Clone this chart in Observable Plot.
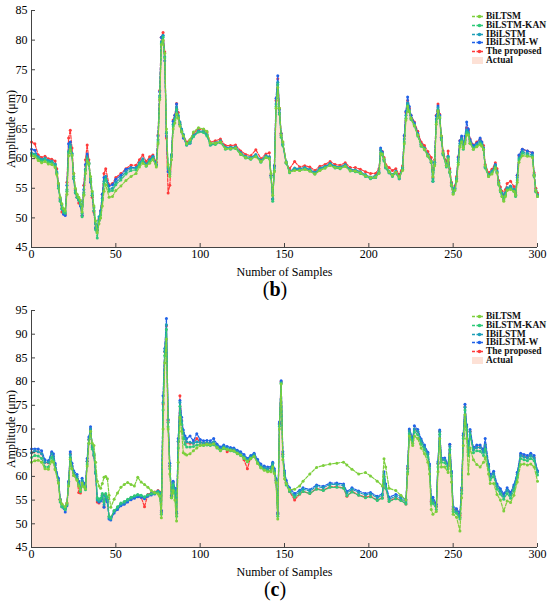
<!DOCTYPE html>
<html><head><meta charset="utf-8">
<script src="https://cdn.jsdelivr.net/npm/d3@7"></script>
<script src="https://cdn.jsdelivr.net/npm/@observablehq/plot@0.6"></script>
<style>
body{margin:0;background:#fff;width:550px;font-family:"Liberation Serif",serif}
.panel{position:relative;width:550px}
.cap{text-align:center;font:20px "Liberation Serif",serif;height:23px;line-height:25px;color:#000}
.legend{position:absolute;left:472px;top:12px;font:bold 9.5px "Liberation Serif",serif;color:#111}
.legend div{height:8.8px;line-height:8.8px;white-space:nowrap;display:flex;align-items:center}
.legend svg{margin-right:2px;flex:none}
</style></head><body>
<div class="panel" id="pb"></div>
<div class="cap">(<b>b</b>)</div>
<div class="panel" id="pc"></div>
<div class="cap" style="height:30px">(<b>c</b>)</div>
<script>
// ---------- shared ----------
const seriesNames = ["BiLTSM","BiLSTM-KAN","IBiLSTM","IBiLSTM-W","The proposed"];
const seriesColors = ["#7dcf3c","#2ec978","#1d9fb8","#2062e8","#ff3a3a"];
const actualName = "Actual";
const actualColor = "#fde1d6";
const xTicks = [0,50,100,150,200,250,300];
const yTicksB = [45,50,55,60,65,70,75,80,85];
const yTicksC = [45,50,55,60,65,70,75,80,85,90,95];

// ---------- panel (b) ----------
const sB = [0,2,4,6,8,10,12,14,15,16,
17,18,19,20,21,22,23,24,25,26,
27,28,29,30,31,32,33,34,35,36,
37,38,39,40,41,42,43,44,46,48,
50,53,56,59,62,64,66,68,70,72,
74,75,76,77,78,79,80,81,82,83,
84,85,86,87,88,89,90,92,94,96,
99,102,104,106,109,112,115,118,121,124,
127,130,133,136,139,141,142,143,144,145,
146,147,148,149,151,153,156,159,162,165,
168,171,174,177,180,183,186,189,192,195,
198,201,204,206,207,208,209,210,212,214,
216,218,220,221,222,223,224,225,227,229,
231,233,235,237,238,239,240,241,242,243,
244,246,247,248,249,250,251,252,253,254,
255,256,257,258,259,260,262,264,266,267,
268,269,271,273,275,276,277,278,279,280,
281,282,284,286,287,288,289,291,294,297,
298,299,300];
const actualB = [61.2,61.0,60.4,60.0,60.2,59.8,59.7,59.2,58.0,55.5,
53.2,52.0,51.2,50.8,55.0,61.5,62.6,61.0,57.0,54.5,
53.8,53.2,52.6,50.6,54.5,58.5,60.6,59.5,56.5,54.0,
51.5,48.8,48.2,50.0,51.0,53.5,56.5,57.3,55.0,55.2,
56.3,57.0,58.0,58.6,58.6,59.5,60.2,59.2,60.0,60.5,
59.2,63.5,71.0,80.0,81.0,77.0,64.0,58.0,57.5,60.8,
66.0,67.0,69.0,67.5,66.3,65.0,64.2,62.6,63.0,64.0,
64.8,64.7,64.2,62.6,62.8,63.1,62.0,62.0,62.1,61.1,
60.5,60.3,60.8,59.8,60.6,60.4,57.0,53.0,58.5,69.5,
73.2,68.0,64.0,62.6,59.6,58.0,58.5,58.4,58.6,58.3,
57.8,58.5,58.8,59.3,58.8,58.7,59.1,58.3,58.2,57.9,
57.4,57.0,57.2,58.0,61.6,61.0,60.0,58.8,58.0,57.4,
58.0,57.0,58.6,63.5,67.5,69.6,68.3,67.0,65.9,64.2,
62.5,61.9,60.8,59.7,56.5,59.5,67.0,68.8,67.2,63.5,
61.0,59.0,60.5,58.0,55.8,54.6,55.2,56.8,60.0,62.8,
63.5,62.0,63.2,65.0,64.6,63.0,62.0,62.5,63.0,62.6,
61.9,58.8,57.4,58.0,59.0,58.0,56.0,54.8,54.1,53.4,
54.2,55.2,55.5,54.9,54.0,57.0,60.3,61.4,61.1,60.8,
57.4,54.8,54.0];
const proposedB = [62.8,62.5,60.6,60.2,60.4,60.0,59.9,59.6,58.3,55.8,
53.0,51.0,50.9,50.6,56.0,63.5,64.8,61.8,57.5,54.8,
53.5,52.5,52.3,50.4,55.5,59.8,62.3,59.8,56.2,53.5,
51.0,48.2,47.9,49.8,51.2,54.0,57.5,58.3,55.6,55.8,
56.8,57.5,58.3,58.9,58.9,59.8,60.6,59.5,60.3,60.6,
59.4,64.0,71.5,80.5,81.3,78.0,63.5,54.2,55.5,60.5,
66.5,67.3,69.3,67.8,66.0,64.8,64.0,62.8,63.2,64.2,
65.0,64.9,64.4,62.8,63.0,63.3,62.2,62.2,62.3,61.3,
60.7,60.5,61.5,60.0,60.8,61.0,57.2,53.2,58.8,69.8,
73.5,68.5,64.3,62.8,59.3,58.3,59.5,58.6,58.8,58.6,
58.0,58.7,59.0,59.5,59.0,58.9,59.3,58.5,58.5,58.2,
57.8,57.5,57.5,58.3,61.4,61.2,60.2,59.0,58.5,58.0,
58.3,57.3,58.8,63.8,67.8,69.8,68.5,67.3,66.2,64.6,
62.8,62.2,61.2,60.2,56.8,59.8,67.3,69.2,67.5,63.8,
61.3,59.3,61.3,58.3,56.0,54.8,55.4,57.0,60.3,63.0,
63.6,62.5,63.3,65.2,64.8,63.3,62.3,62.8,63.3,62.8,
62.2,59.0,57.6,58.2,59.3,58.3,56.3,55.2,54.5,53.8,
54.8,55.8,56.2,55.3,54.3,57.2,60.5,61.6,61.3,61.0,
57.6,55.0,54.2];
const wB = [61.6,61.4,60.2,59.6,60.0,59.5,59.5,59.0,57.6,55.6,
53.0,51.5,50.6,50.4,55.5,62.5,62.8,60.8,56.6,54.2,
53.5,53.0,52.0,50.4,54.8,59.0,60.8,59.2,56.0,53.8,
51.2,48.3,48.0,49.6,51.2,54.0,56.8,57.0,55.4,55.6,
56.5,57.2,58.2,58.5,58.5,59.2,59.8,59.0,59.8,60.4,
59.0,63.8,71.3,80.5,80.8,76.5,63.8,57.8,57.8,60.6,
66.3,67.3,69.2,67.0,65.8,64.6,63.5,62.3,62.6,63.8,
64.6,64.5,64.0,62.3,62.5,62.8,61.8,61.8,61.9,61.0,
60.2,60.0,60.5,59.6,60.3,60.2,57.2,53.2,58.8,70.2,
74.0,68.3,64.2,62.4,59.3,57.8,58.2,58.2,58.4,58.1,
57.5,58.3,58.6,59.1,58.6,58.5,58.9,58.1,58.0,57.6,
57.1,56.7,56.8,57.6,61.8,61.1,59.8,58.5,57.6,57.1,
57.6,56.6,58.4,63.9,68.0,70.4,68.8,67.3,66.0,64.3,
62.4,61.7,60.6,59.4,56.2,59.4,67.2,68.9,67.3,63.6,
60.8,58.8,60.3,57.7,55.5,54.3,55.0,56.6,60.2,63.0,
63.8,62.3,63.8,66.2,65.0,63.2,62.2,62.6,63.5,62.8,
61.8,58.5,57.2,57.8,59.0,57.8,55.8,54.6,53.9,53.2,
54.0,55.0,55.3,54.6,53.8,57.2,60.6,61.6,61.3,61.0,
57.2,54.5,53.8];
const iB = [61.0,60.8,60.3,59.9,60.1,59.7,59.6,59.1,57.8,55.4,
53.3,52.2,51.4,51.0,54.8,61.2,62.4,60.9,57.0,54.6,
53.9,53.4,52.8,50.8,54.3,58.2,60.3,59.3,56.6,54.2,
51.7,49.0,48.5,50.2,51.0,53.3,56.2,57.0,54.8,55.0,
56.0,56.8,57.8,58.4,58.4,59.3,60.0,59.0,59.8,60.3,
59.0,63.2,70.6,79.7,80.8,77.2,64.3,58.3,57.6,60.7,
65.8,66.8,68.7,67.3,66.2,65.0,64.1,62.5,62.9,63.9,
64.7,64.6,64.1,62.5,62.7,63.0,61.9,61.9,62.0,61.0,
60.4,60.2,60.7,59.7,60.5,60.3,57.1,53.2,58.4,69.2,
72.9,67.8,63.9,62.5,59.5,57.9,58.4,58.3,58.5,58.2,
57.7,58.4,58.7,59.2,58.7,58.6,59.0,58.2,58.1,57.8,
57.3,56.9,57.1,57.9,61.5,60.9,59.9,58.7,57.9,57.3,
57.9,56.9,58.5,63.3,67.3,69.4,68.2,66.9,65.8,64.1,
62.4,61.8,60.7,59.6,56.6,59.4,66.7,68.6,67.1,63.5,
60.9,58.9,60.4,57.9,55.8,54.7,55.1,56.7,59.8,62.6,
63.4,61.9,63.1,64.8,64.5,62.9,61.9,62.4,62.9,62.5,
61.8,58.7,57.3,57.9,58.9,57.9,56.0,54.8,54.2,53.5,
54.2,55.1,55.4,54.8,54.0,56.8,60.1,61.2,60.9,60.6,
57.3,54.7,53.9];
const kanB = [60.8,60.6,60.0,59.6,59.8,59.4,59.3,58.8,57.5,55.0,
52.8,51.6,51.0,50.8,54.5,61.0,62.0,60.5,56.7,54.3,
53.5,53.0,52.4,50.2,54.0,58.0,60.0,59.0,56.3,53.8,
51.2,48.0,46.6,49.5,50.5,53.0,55.8,56.5,54.5,54.6,
55.6,56.4,57.4,58.0,58.1,59.0,59.6,58.7,59.5,60.0,
58.8,62.8,70.3,79.4,80.5,77.0,64.5,58.6,57.3,60.3,
65.5,66.5,68.3,67.0,65.8,64.6,63.8,62.3,62.7,63.7,
64.5,64.4,63.8,62.3,62.4,62.7,61.6,61.6,61.7,60.7,
60.1,59.9,60.4,59.4,60.2,60.0,56.8,52.8,58.0,68.8,
72.5,67.5,63.6,62.2,59.2,57.6,58.1,58.0,58.2,57.9,
57.4,58.1,58.4,58.9,58.4,58.3,58.7,57.9,57.8,57.5,
57.0,56.6,56.8,57.6,61.0,60.6,59.6,58.4,57.6,57.0,
57.6,56.6,58.2,62.8,66.8,69.0,67.9,66.6,65.5,63.8,
62.1,61.5,60.4,59.3,56.2,59.0,66.2,68.2,66.8,63.2,
60.6,58.6,60.1,57.6,55.4,54.2,54.8,56.4,59.4,62.2,
63.0,61.6,62.8,64.4,64.2,62.6,61.6,62.1,62.6,62.2,
61.5,58.4,57.0,57.6,58.6,57.6,55.6,54.4,53.6,53.0,
53.8,54.8,55.0,54.5,53.6,56.4,59.8,60.9,60.6,60.3,
57.0,54.4,53.6];
const biB = [60.5,60.3,59.7,59.3,59.5,59.1,59.0,58.5,57.3,55.8,
53.5,52.4,51.6,51.2,54.0,60.5,61.5,60.6,57.5,55.0,
54.0,53.5,53.0,51.0,53.8,57.5,59.6,59.2,57.0,54.5,
52.0,49.5,47.5,49.0,50.0,52.0,54.5,55.6,53.5,53.6,
54.6,55.4,56.3,57.0,57.5,58.6,59.2,58.8,59.2,59.8,
58.6,62.5,70.0,79.2,80.0,77.8,65.0,59.0,57.0,59.8,
65.0,66.0,67.5,66.8,65.5,64.5,63.8,62.5,63.2,64.5,
65.2,65.0,64.6,62.6,62.6,62.8,61.7,61.7,61.8,60.8,
60.2,60.0,60.3,59.5,60.2,60.0,57.5,53.8,57.8,68.5,
72.0,68.5,64.0,62.8,59.4,57.8,58.0,58.0,58.2,57.9,
57.4,58.0,58.4,58.9,58.5,58.4,58.7,58.0,57.9,57.6,
57.1,56.8,56.9,57.5,60.8,60.8,60.0,58.8,57.8,57.2,
57.7,56.9,58.0,62.5,66.5,68.8,68.0,66.8,65.6,64.0,
62.3,61.6,60.5,59.5,57.0,58.8,65.8,68.0,67.0,63.8,
61.0,58.8,59.8,57.8,55.6,54.0,54.6,56.2,59.0,62.0,
62.8,61.8,62.5,64.0,64.0,62.6,61.6,62.0,62.4,62.1,
61.6,58.8,57.0,57.4,58.4,57.6,55.8,54.6,53.6,52.8,
53.6,54.6,54.8,54.5,53.8,56.0,59.4,60.5,60.4,60.2,
57.2,54.6,53.6];

// ---------- panel (c) ----------
const sC = [0,2,4,6,8,10,12,13,14,16,
17,18,20,21,22,23,24,25,27,28,
29,30,31,32,33,34,35,36,37,38,
39,40,41,42,43,44,45,46,47,49,
51,53,55,57,59,61,63,65,67,69,
71,73,75,76,77,78,79,80,81,82,
83,84,85,86,87,88,89,90,91,92,
94,96,98,100,102,104,106,108,110,112,
114,116,118,120,122,124,126,128,130,132,
134,136,138,140,142,143,144,145,146,147,
148,149,150,151,153,156,159,161,165,169,
173,177,181,185,187,190,194,198,201,205,
208,209,210,212,216,219,222,223,224,226,
227,229,231,233,235,236,237,238,240,241,
242,243,245,247,248,249,250,252,254,255,
256,257,258,259,260,262,264,266,268,269,
271,272,274,276,278,280,282,284,286,288,
290,292,294,296,298,300];
const actualC = [64.8,65.2,65.0,64.6,62.8,62.7,64.6,64.0,62.2,59.0,
55.0,54.0,53.2,54.2,58.5,64.5,62.0,60.6,59.8,58.5,
57.0,59.0,58.0,57.5,63.0,67.5,69.8,66.0,64.2,60.5,
55.0,54.8,55.0,56.0,54.0,56.0,55.0,51.3,51.0,52.5,
53.2,54.0,54.3,54.8,55.3,55.6,55.9,55.8,55.5,56.0,
56.3,56.5,56.8,56.5,52.5,75.0,86.0,92.5,71.0,62.0,
55.5,58.5,57.0,52.0,67.0,75.5,71.5,69.0,67.8,67.0,
66.8,66.7,67.0,67.0,66.8,66.9,66.8,67.0,66.2,65.6,
66.1,65.8,65.6,65.5,65.0,64.6,64.0,63.3,63.9,64.4,
63.0,62.0,61.6,61.4,61.5,62.5,61.0,59.0,52.0,71.0,
79.8,64.5,60.5,58.5,57.0,55.8,56.5,57.0,56.6,57.6,
57.3,58.0,58.0,57.8,56.2,57.0,56.3,55.8,56.0,55.2,
55.7,60.3,57.8,55.0,55.6,55.2,54.5,61.5,69.6,67.5,
69.8,69.3,67.3,66.0,64.5,62.0,54.5,55.0,53.5,62.5,
69.3,63.3,63.3,62.0,66.2,60.5,53.0,52.6,51.6,57.0,
68.5,74.5,70.3,65.0,69.3,65.5,66.0,66.0,65.0,66.5,
62.0,59.8,60.5,57.8,56.8,55.7,57.0,56.0,57.6,60.3,
64.3,64.0,63.8,64.3,63.8,60.8];
const proposedC = [65.0,65.4,65.2,64.8,63.0,62.9,65.0,64.2,62.4,59.2,
55.2,54.2,53.4,54.4,58.8,64.8,62.2,60.8,59.6,56.6,
56.5,58.8,58.2,57.7,63.2,67.8,70.0,66.2,64.4,60.7,
54.6,54.4,55.2,56.2,53.6,56.2,55.2,51.5,51.2,52.7,
53.4,54.2,54.5,55.0,55.5,55.8,56.1,55.6,53.6,56.2,
56.5,56.7,57.0,56.7,52.7,75.3,86.3,91.8,71.8,62.2,
55.7,58.7,57.2,52.2,67.3,77.0,71.8,69.2,68.0,67.2,
67.0,67.0,68.0,67.2,67.0,67.1,67.0,67.2,66.4,65.8,
66.3,65.2,65.8,65.7,65.2,64.8,63.5,61.6,64.1,64.6,
63.2,62.2,61.8,61.6,61.7,62.7,61.2,59.2,52.2,71.2,
80.0,64.7,60.7,58.7,56.8,55.0,56.3,56.8,56.4,57.4,
57.1,57.8,57.8,57.6,55.8,56.8,56.1,55.6,55.8,55.0,
55.5,60.0,57.6,54.8,55.4,55.0,54.2,61.7,69.8,67.7,
70.0,69.5,67.5,66.2,64.7,62.2,54.7,55.2,53.7,62.7,
69.5,63.5,63.5,62.2,66.7,60.7,53.2,52.8,51.8,57.2,
68.7,74.7,70.5,65.2,69.5,65.7,66.2,66.2,65.2,66.7,
62.2,60.0,60.7,58.0,57.0,55.9,57.2,56.2,57.8,60.5,
64.5,64.2,64.0,64.5,64.0,61.0];
const wC = [65.8,65.8,65.8,65.4,63.5,63.3,65.2,64.8,62.8,59.6,
55.2,53.6,52.5,53.8,59.0,65.2,62.8,61.2,60.4,59.0,
57.6,59.6,58.6,58.0,63.8,68.3,70.5,66.6,64.8,61.0,
55.3,54.6,54.8,56.0,53.5,55.8,54.6,51.0,50.8,52.3,
53.0,53.8,54.1,54.6,55.1,55.4,55.7,55.6,55.3,55.8,
56.1,56.3,56.6,56.3,52.8,77.0,87.0,93.3,72.0,62.8,
56.0,59.0,57.5,52.5,68.0,76.0,72.5,69.8,68.5,68.0,
68.5,67.5,69.0,67.8,67.5,67.6,67.5,68.0,66.8,66.2,
66.6,66.3,66.1,66.0,65.5,65.2,64.6,63.8,64.4,64.9,
63.6,62.6,62.2,62.0,62.0,63.0,61.6,59.5,52.4,71.5,
80.2,65.2,61.2,59.2,57.6,56.4,57.1,57.6,57.2,58.2,
57.9,58.6,58.6,58.4,56.8,57.6,56.9,56.4,56.6,55.8,
56.3,61.0,58.4,55.6,56.2,55.8,55.1,62.2,70.0,68.1,
70.7,69.9,67.9,66.6,65.1,62.6,55.0,55.6,54.1,63.1,
69.8,63.9,63.9,62.6,66.8,61.1,53.6,53.2,52.2,57.6,
69.0,75.2,70.9,65.6,69.9,66.1,66.6,66.6,65.6,68.0,
62.6,60.4,61.1,58.4,57.4,56.3,57.6,56.6,58.2,60.9,
64.9,64.6,64.4,64.9,64.4,61.2];
const iC = [65.0,65.4,65.2,64.8,63.0,63.0,64.8,64.2,62.4,59.2,
55.0,54.0,53.0,54.2,58.6,64.6,62.2,60.8,60.0,58.6,
57.2,59.2,58.2,57.6,63.2,67.8,70.0,66.2,64.4,60.6,
55.0,54.8,55.0,56.0,54.0,56.0,55.0,51.2,51.0,52.6,
53.3,54.1,54.4,54.9,55.4,55.7,56.0,55.9,55.6,56.1,
56.4,56.6,56.9,56.6,52.4,75.6,86.4,92.0,71.4,62.2,
55.6,58.6,57.2,52.2,67.4,75.6,71.6,69.2,68.0,67.3,
67.2,67.0,67.3,67.2,67.0,67.1,67.0,67.3,66.4,65.8,
66.3,66.0,65.8,65.7,65.2,64.8,64.2,63.5,64.1,64.6,
63.2,62.2,61.8,61.6,61.7,62.7,61.2,59.2,52.0,71.0,
79.8,64.6,60.7,58.7,57.2,56.0,56.8,57.3,56.9,57.9,
57.6,58.3,58.3,58.1,56.5,57.3,56.6,56.1,56.3,55.5,
56.0,60.5,58.0,55.2,55.8,55.4,54.6,61.6,69.6,67.6,
70.0,69.5,67.5,66.2,64.7,62.2,54.6,55.0,53.6,62.7,
69.4,63.5,63.5,62.2,66.3,60.7,53.0,52.6,51.4,57.0,
68.6,74.6,70.4,65.1,69.4,65.6,66.1,66.1,65.1,66.6,
62.1,59.9,60.6,57.9,56.9,55.8,57.1,56.1,57.7,60.4,
64.4,64.1,63.9,64.4,63.9,60.9];
const kanC = [64.0,64.4,64.3,63.8,62.0,62.0,64.0,63.4,61.6,58.6,
54.6,53.6,53.0,54.0,58.2,64.0,61.6,60.2,59.4,58.2,
56.8,58.6,57.8,57.2,62.6,67.0,69.4,65.8,64.6,61.0,
55.5,55.2,55.4,56.4,54.6,56.4,55.6,51.6,51.2,52.8,
53.6,54.4,54.7,55.2,55.6,55.9,56.2,56.0,55.7,56.1,
56.3,56.4,56.6,56.2,52.0,74.0,85.5,91.0,70.5,61.6,
55.5,58.2,56.6,51.6,66.0,74.8,71.0,68.0,66.8,66.2,
66.2,66.3,66.6,66.7,66.5,66.6,66.5,66.7,66.0,65.4,
65.9,65.6,65.4,65.3,64.8,64.4,63.8,63.1,63.7,64.2,
62.8,61.8,61.4,61.2,61.2,62.2,60.8,58.8,51.6,70.6,
79.6,64.2,60.2,58.2,56.8,55.6,56.3,56.8,56.4,57.3,
57.0,57.7,57.7,57.5,55.9,56.7,56.0,55.5,55.7,54.9,
55.4,60.0,57.5,54.7,55.3,54.9,54.2,61.0,69.0,67.0,
69.4,68.8,66.8,65.6,64.1,61.6,54.2,54.4,53.0,62.0,
68.9,63.0,62.9,61.6,65.7,60.1,52.6,52.2,51.0,56.4,
68.0,74.0,69.8,64.4,68.8,65.0,65.4,65.3,64.4,65.8,
61.5,59.3,60.0,57.3,56.3,55.2,56.4,55.4,57.0,59.8,
63.8,63.5,63.3,63.8,63.3,60.3];
const biC = [63.0,63.3,63.4,63.0,61.6,61.5,63.2,63.0,61.4,58.6,
55.0,54.2,53.6,54.4,58.0,63.6,61.6,60.2,59.2,58.0,
57.2,58.6,57.8,57.4,62.2,67.0,69.5,67.0,66.5,63.0,
59.0,58.0,57.5,58.5,59.8,60.0,59.5,56.0,53.5,55.2,
56.5,57.7,58.3,58.7,58.3,58.0,59.8,58.8,58.3,57.7,
57.0,56.6,56.3,55.8,51.3,70.0,84.0,89.0,70.0,60.5,
55.5,57.0,55.0,50.6,63.0,72.5,69.5,65.0,64.7,64.5,
64.8,65.4,66.0,66.5,66.6,66.8,66.7,66.9,66.1,65.5,
66.0,65.7,65.5,65.4,64.9,64.5,63.9,63.2,63.8,64.2,
62.8,61.8,61.3,61.0,61.0,62.0,60.6,58.6,51.0,70.0,
79.5,63.5,59.5,58.5,57.2,57.3,58.0,59.0,60.5,61.9,
62.3,62.6,62.8,63.0,62.4,61.5,60.5,60.8,60.1,59.0,
58.0,63.7,62.0,57.5,57.0,56.0,55.0,60.5,68.5,66.5,
68.5,68.0,66.0,64.8,63.0,60.5,53.0,52.0,52.6,61.0,
68.0,62.0,62.0,60.8,64.5,58.8,52.0,51.4,48.5,55.5,
66.5,73.0,68.0,60.5,66.0,63.5,62.5,62.0,63.0,64.0,
60.5,58.5,58.5,56.2,55.0,52.7,54.8,54.5,56.0,58.8,
62.5,62.6,62.4,62.6,62.0,59.0];

// ---------- drawing ----------
function legendHTML() {
  let h = '<div class="legend">';
  seriesNames.forEach((n, i) => {
    const c = seriesColors[i];
    h += `<div><svg width="12" height="9"><line x1="0" x2="11" y1="4.5" y2="4.5" stroke="${c}" stroke-width="1.3" stroke-dasharray="3,1.5"/><circle cx="7.5" cy="4.5" r="1.8" fill="${c}"/></svg>${n}</div>`;
  });
  h += `<div><svg width="12" height="9"><rect x="0" y="1" width="11" height="7" fill="${actualColor}"/></svg>${actualName}</div>`;
  return h + '</div>';
}

function build(id, s, actual, series, yTicks) {
  const area = s.map((x, i) => ({x, y: actual[i]}));
  const marks = [
    Plot.areaY(area, {x: "x", y1: yTicks[0], y2: "y", fill: actualColor})
  ];
  // draw order: proposed, W, IBiLSTM, KAN, BiLSTM (greens on top)
  [4, 3, 2, 1, 0].forEach(k => {
    const d = s.map((x, i) => ({x, y: series[k][i]}));
    marks.push(Plot.line(d, {x: "x", y: "y", stroke: seriesColors[k], strokeWidth: 1.2, strokeDasharray: "3,1.5"}));
    marks.push(Plot.dot(d, {x: "x", y: "y", fill: seriesColors[k], r: 1.5}));
  });
  marks.push(Plot.ruleX([xTicks[0]], {stroke: "#444"}));
  marks.push(Plot.ruleY([yTicks[0]], {stroke: "#444"}));
  marks.push(Plot.axisY({ticks: yTicks, tickSize: -4, tickPadding: 8, stroke: "#444", fontSize: 12,
    label: "Amplitude (μm)", labelAnchor: "center", labelArrow: "none", labelOffset: 25}));
  marks.push(Plot.axisX({ticks: xTicks, tickSize: -4, tickPadding: 6, stroke: "#444", fontSize: 12,
    label: "Number of Samples", labelAnchor: "center", labelArrow: "none", labelOffset: 28}));
  const chart = Plot.plot({
    width: 550, height: 277,
    marginTop: 10, marginBottom: 30, marginLeft: 31, marginRight: 13,
    style: {fontFamily: "Liberation Serif", fontSize: "12px", color: "#000", background: "white", overflow: "visible"},
    x: {domain: [xTicks[0], xTicks[xTicks.length - 1]]},
    y: {domain: [yTicks[0], yTicks[yTicks.length - 1]]},
    marks
  });
  const el = document.getElementById(id);
  el.appendChild(chart);
  el.insertAdjacentHTML("beforeend", legendHTML());
}

build("pb", sB, actualB, [biB, kanB, iB, wB, proposedB], yTicksB);
build("pc", sC, actualC, [biC, kanC, iC, wC, proposedC], yTicksC);
</script>
</body></html>
